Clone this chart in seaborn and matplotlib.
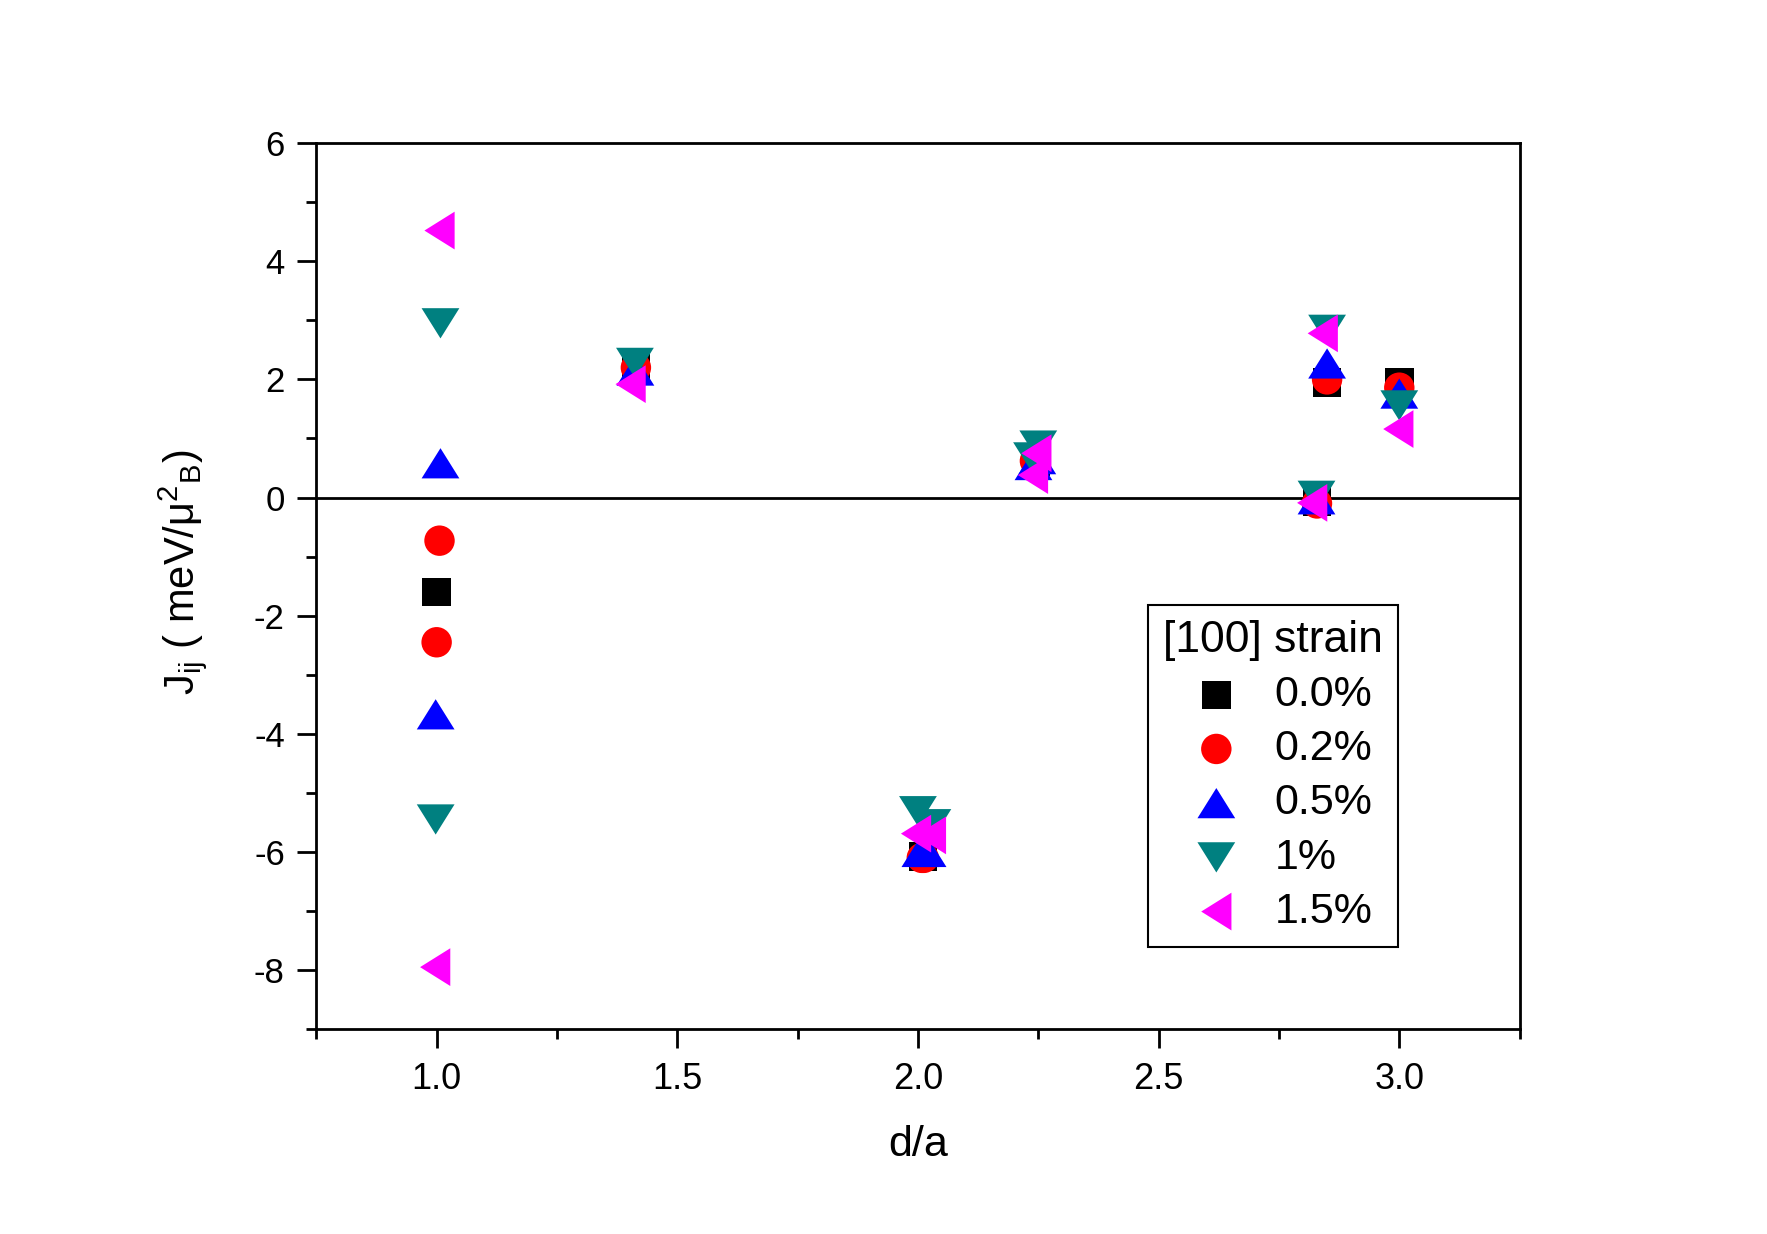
import matplotlib
matplotlib.use('Agg')
import matplotlib.pyplot as plt
import seaborn as sns
from matplotlib.ticker import MultipleLocator

# exchange constants J_ij vs. d/a for several [100] strains
x_00 = [1.0, 1.414, 2.01, 2.245, 2.829, 2.85, 3.0]
y_00 = [-1.6, 2.2, -6.08, 0.6, -0.07, 1.95, 1.95]

x_02 = [1.006, 1.0, 1.414, 2.008, 2.012, 2.243, 2.829, 2.85, 3.0]
y_02 = [-0.73, -2.45, 2.2, -6.1, -6.1, 0.62, -0.1, 2.0, 1.86]

x_05 = [1.008, 0.998, 1.413, 2.005, 2.02, 2.248, 2.24, 2.828, 2.85, 3.0]
y_05 = [0.58, -3.67, 2.15, -6.0, -6.0, 0.65, 0.55, -0.03, 2.27, 1.76]

x_10 = [1.008, 0.998, 1.412, 2.0, 2.03, 2.25, 2.237, 2.828, 2.85, 3.0]
y_10 = [2.95, -5.45, 2.28, -5.31, -5.53, 0.88, 0.68, 0.03, 2.84, 1.56]

x_15 = [1.006, 0.997, 1.403, 1.996, 2.027, 2.246, 2.239, 2.819, 2.841, 2.998]
y_15 = [4.52, -7.95, 1.92, -5.69, -5.72, 0.75, 0.38, -0.09, 2.78, 1.16]

labels = ['0.0%', '0.2%', '0.5%', '1%', '1.5%']
xs = [x_00, x_02, x_05, x_10, x_15]
ys = [y_00, y_02, y_05, y_10, y_15]

xtick_vals = [1.0, 1.5, 2.0, 2.5, 3.0]
xtick_labels = ['1.0', '1.5', '2.0', '2.5', '3.0']

# Origin-style triangles are a bit flatter than matplotlib's
tri_up = [(-1, -0.8), (1, -0.8), (0, 0.8), (-1, -0.8)]
tri_down = [(-1, 0.8), (1, 0.8), (0, -0.8), (-1, 0.8)]
tri_left = [(0.8, -1), (0.8, 1), (-0.8, 0), (0.8, -1)]

colors = ['black', '#ff0000', '#0000ff', '#008080', '#ff00ff']
markers = ['s', 'o', tri_up, tri_down, tri_left]
sizes = [420, 480, 740, 740, 740]

sns.set_style('ticks')
plt.rcParams['font.family'] = ['Liberation Sans', 'DejaVu Sans']
plt.rcParams['axes.unicode_minus'] = False
plt.rcParams['text.color'] = 'black'
plt.rcParams['axes.labelcolor'] = 'black'
plt.rcParams['xtick.color'] = 'black'
plt.rcParams['ytick.color'] = 'black'

fig = plt.figure(figsize=(17.67, 12.34), dpi=100)
ax = fig.add_axes([0.179, 0.166, 0.681, 0.718])

ax.axhline(0, color='black', lw=2.0, zorder=1)

for i in range(len(labels)):
    sns.scatterplot(x=xs[i], y=ys[i], marker=markers[i], s=sizes[i], color=colors[i],
                    edgecolor='none', linewidth=0, label=labels[i], ax=ax, zorder=3)

ax.set_xlim(0.75, 3.25)
ax.set_ylim(-9, 6)
ax.set_xticks(xtick_vals, labels=xtick_labels, fontsize=26)
ax.xaxis.set_minor_locator(MultipleLocator(0.25))
ax.yaxis.set_major_locator(MultipleLocator(2))
ax.yaxis.set_minor_locator(MultipleLocator(1))
ax.tick_params(axis='x', pad=10)
ax.tick_params(axis='y', labelsize=25, pad=9)
ax.tick_params(which='both', direction='out', top=False, right=False, width=2.0, color='black')
ax.tick_params(which='major', length=13.7)
ax.tick_params(which='minor', length=7.2)
for sp in ax.spines.values():
    sp.set_linewidth(2.0)
    sp.set_color('black')

ax.set_xlabel('d/a', fontsize=31, labelpad=20)
ax.set_ylabel(r'J$\mathregular{_{ij}}$ ( meV/μ$\mathregular{^{2}{}_{B}}$)', fontsize=30, labelpad=32)
ax.yaxis.label.set_y(0.516)

leg = ax.legend(title='[100] strain', loc='upper left', bbox_to_anchor=(0.691, 0.479),
                borderaxespad=0, fontsize=31, title_fontsize=32, frameon=True, fancybox=False,
                edgecolor='black', framealpha=1, handlelength=2.0, handletextpad=0.35,
                labelspacing=0.33, borderpad=0.35)
leg.get_frame().set_linewidth(1.5)

fig.savefig('out.png', dpi=100)
